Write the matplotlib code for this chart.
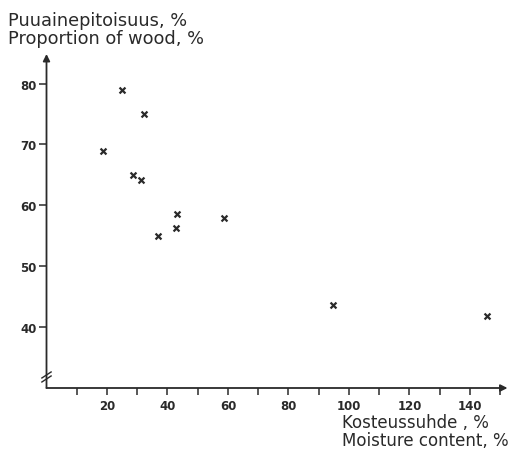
import matplotlib.pyplot as plt

# Moisture content (%) and proportion of wood (%)
moisture = [25.1, 32.3, 18.8, 28.7, 31.4, 43.2, 42.9, 37.0, 58.7, 94.7, 145.5]
wood = [79.0, 75.1, 69.0, 65.0, 64.2, 58.6, 56.3, 55.0, 57.9, 43.6, 41.8]

x_major = [20, 40, 60, 80, 100, 120, 140]
x_minor = [10, 30, 50, 70, 90, 110, 130, 150]
y_major = [40, 50, 60, 70, 80]

fig = plt.figure(figsize=(5.08, 4.52), dpi=100)
ax = fig.add_axes([46.5 / 508, (452 - 389) / 452, 461 / 508, 334 / 452])
ax.set_xlim(0, 152.4)
ax.set_ylim(29.9, 84.9)

ink = "#2a2a2a"
for s in ax.spines.values():
    s.set_visible(False)

# Axes drawn as arrows
ax.annotate("", xy=(1, 0), xytext=(0, 0), xycoords="axes fraction",
            arrowprops=dict(arrowstyle="-|>", color=ink, lw=1.3,
                            mutation_scale=10, shrinkA=0, shrinkB=0))
ax.annotate("", xy=(0, 1), xytext=(0, 0), xycoords="axes fraction",
            arrowprops=dict(arrowstyle="-|>", color=ink, lw=1.3,
                            mutation_scale=10, shrinkA=0, shrinkB=0))

# Axis break marks
for dy in (0, 0.012):
    ax.plot([-0.01, 0.01], [0.018 + dy, 0.036 + dy], transform=ax.transAxes,
            color=ink, lw=1.0, clip_on=False)

ax.scatter(moisture, wood, marker="x", s=18, color=ink, linewidths=1.6, zorder=3)

ax.set_xticks(x_major)
ax.set_xticks(x_minor, minor=True)
ax.set_yticks(y_major)
ax.tick_params(axis="x", which="both", direction="out", length=5, width=1.1,
               color=ink, labelsize=8.5, pad=3, labelcolor=ink)
ax.tick_params(axis="y", direction="out", length=6, width=1.1, color=ink,
               labelsize=8.5, pad=1, labelcolor=ink)
for lab in ax.get_xticklabels() + ax.get_yticklabels():
    lab.set_fontweight("bold")

fig.text(8 / 508, 1 - 12 / 452, "Puuainepitoisuus, %\nProportion of wood, %",
         ha="left", va="top", fontsize=12.8, color=ink, linespacing=1.0)
fig.text(342 / 508, 1 - 414 / 452, "Kosteussuhde , %\nMoisture content, %",
         ha="left", va="top", fontsize=12, color=ink, linespacing=1.0)

fig.savefig("out.png", dpi=100)
